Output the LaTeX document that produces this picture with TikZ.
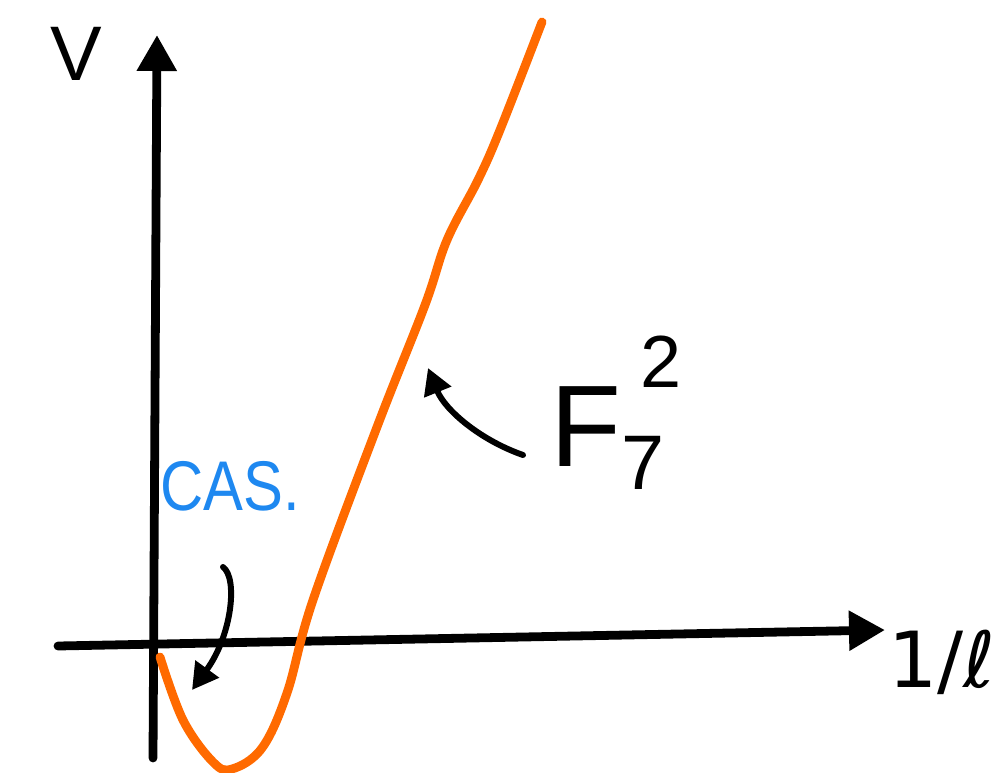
\documentclass[tikz,border=0pt]{standalone}
\usepackage{fontspec}
\setmainfont{Liberation Sans}
\newfontfamily\symfont{DejaVu Sans}
\usetikzlibrary{arrows.meta}
\definecolor{curveorange}{RGB}{255,106,0}
\definecolor{casblue}{RGB}{30,136,240}

\begin{document}
\begin{tikzpicture}[
  x=0.01cm, y=-0.01cm,
  axis/.style={-{Triangle[length=3.6mm,width=3.8mm]}, line width=2.5pt, line cap=round},
  curve/.style={curveorange, line width=2.5pt, line cap=round, line join=round},
  pointer/.style={-{Triangle[length=2.6mm,width=2.8mm]}, line width=1.7pt, line cap=round},
  label/.style={inner sep=0pt, font=\fontsize{22}{22}\selectfont}
]
  \useasboundingbox (0,0) rectangle (1000,773);

  % axes
  \coordinate (ybot) at (153,758);
  \coordinate (ytop) at (157,35);
  \coordinate (xleft) at (58,646);
  \coordinate (xright) at (885,630);
  \draw[axis] (ybot) -- (ytop);
  \draw[axis] (xleft) -- (xright);

  \node[label] (vlab) at (76,54) {V};
  \node[label, font=\symfont\fontsize{22}{22}\selectfont] (xlab) at (942,662) {1/ℓ};

  % potential
  \draw[curve] plot[smooth, tension=0.6] coordinates {
    (160,657) (183,720) (213,762) (232,769) (262,748) (287,693)
    (313,600) (377,427) (425,305) (447,240) (478,180) (500,130)
    (542,22)};

  % labels and pointers
  \node[label, casblue, font=\fontsize{20}{20}\selectfont, xscale=0.85] (cas) at (230,486) {CAS.};
  \coordinate (casfrom) at (223,567);
  \coordinate (casto) at (192,690);
  \draw[pointer] (casfrom) .. controls (238,578) and (232,635) .. (casto);

  \node[label, anchor=base west, font=\fontsize{33}{33}\selectfont] (flab) at (550,466)
    {F\raisebox{-0.2em}{\fontsize{22}{22}\selectfont 7}\kern-7pt\raisebox{0.68em}{\fontsize{21}{21}\selectfont 2}};
  \coordinate (ffrom) at (523,455);
  \coordinate (fto) at (428,368);
  \draw[pointer] (ffrom) .. controls (480,440) and (445,410) .. (fto);
\end{tikzpicture}
\end{document}
